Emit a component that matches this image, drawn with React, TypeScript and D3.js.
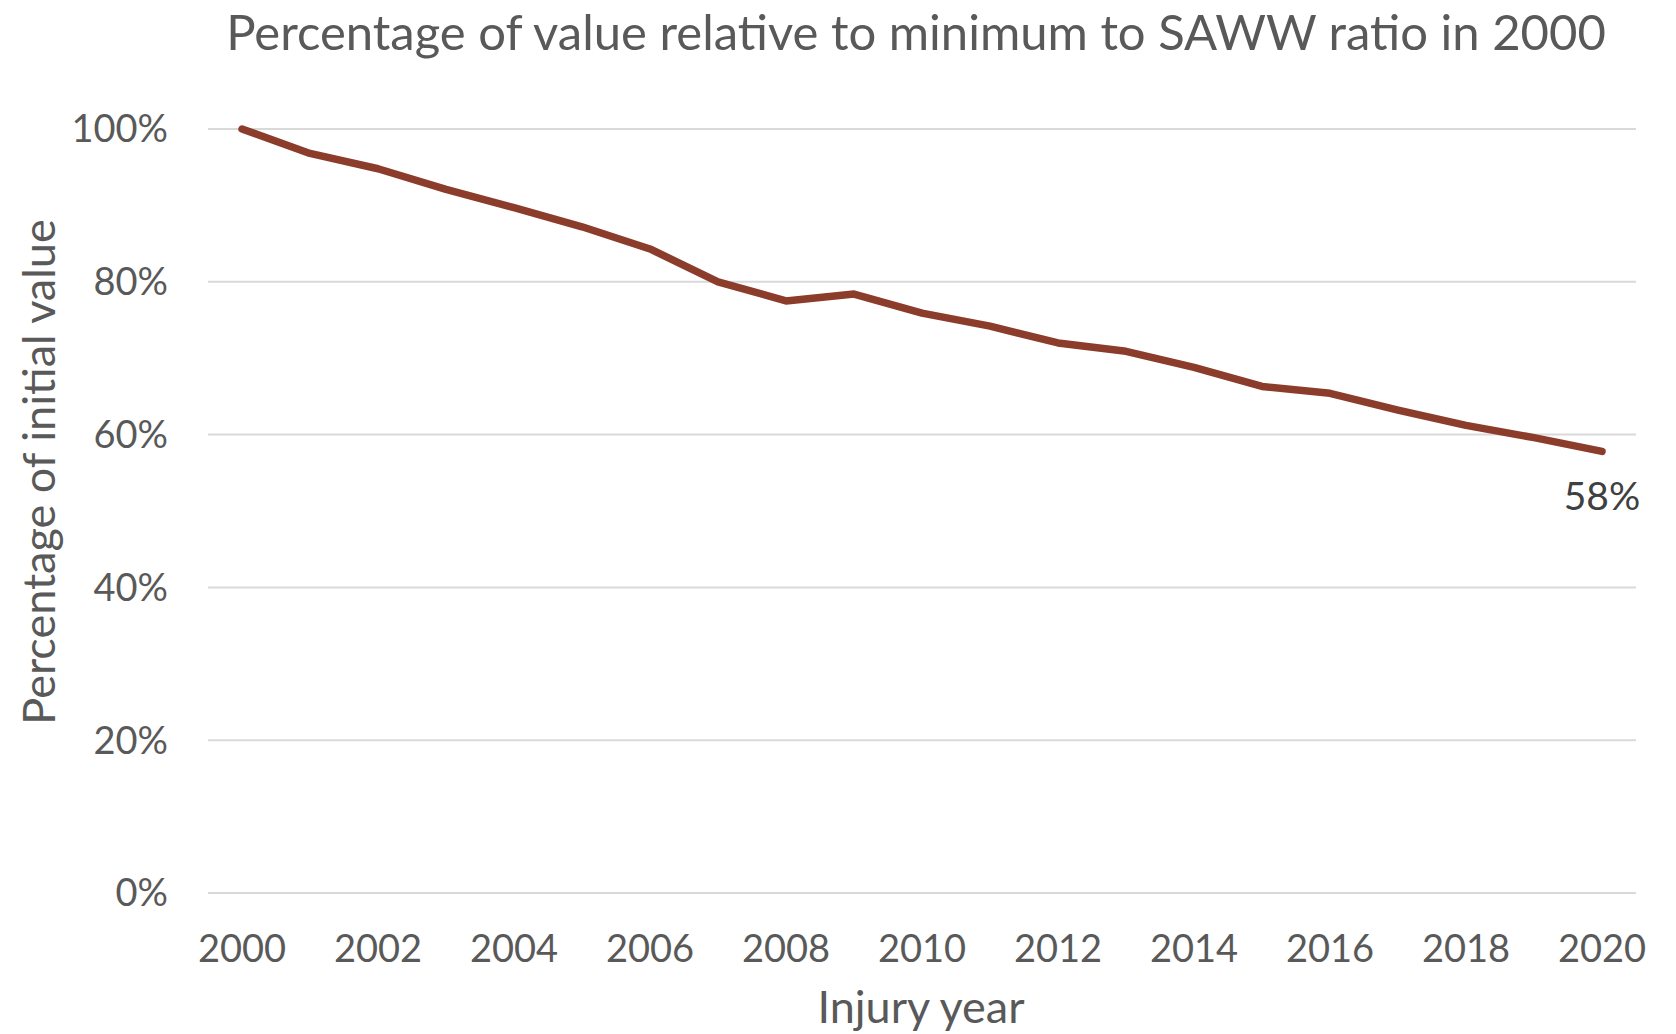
import * as d3 from 'd3'

const years = d3.range(2000, 2021)
const values = [1.0, 0.968, 0.948, 0.921, 0.897, 0.872, 0.843, 0.8, 0.775, 0.784, 0.759, 0.742, 0.72, 0.709, 0.688, 0.663, 0.654, 0.632, 0.612, 0.596, 0.578]
const yTicks = [0, 0.2, 0.4, 0.6, 0.8, 1.0]
const xTickYears = d3.range(2000, 2021, 2)

const W = 1676
const H = 1034
const FONT = 'Lato, "Open Sans", sans-serif'
const TEXT = '#595959'

export default function App() {
  const m = { top: 129, right: 40, bottom: 141, left: 208 }
  const x = d3.scalePoint<number>().domain(years).range([m.left, W - m.right]).padding(0.5)
  const y = d3.scaleLinear().domain([0, 1]).range([H - m.bottom, m.top])

  const line = d3.line<number>()
    .x((_, i) => x(years[i]) ?? 0)
    .y(v => y(v))

  const fmt = d3.format('.0%')
  const last = values[values.length - 1]
  const lastX = x(years[years.length - 1]) ?? 0

  return (
    <svg width={W} height={H} style={{ position: 'absolute', left: 0, top: 0, background: '#fff' }} fontFamily={FONT}>
      <text x={916} y={50} textAnchor="middle" fontSize={49} fill={TEXT}>
        Percentage of value relative to minimum to SAWW ratio in 2000
      </text>

      {yTicks.map(t => (
        <g key={t}>
          <line x1={m.left} x2={W - m.right} y1={y(t)} y2={y(t)} stroke="#d9d9d9" strokeWidth={2} />
          <text x={168} y={y(t)} dy="0.35em" textAnchor="end" fontSize={38} fill={TEXT}>{fmt(t)}</text>
        </g>
      ))}

      {xTickYears.map(yr => (
        <text key={yr} x={x(yr)} y={962} textAnchor="middle" fontSize={38} fill={TEXT}>{yr}</text>
      ))}

      <path d={line(values) ?? ''} fill="none" stroke="#8b3c2b" strokeWidth={7.5} strokeLinejoin="round" strokeLinecap="round" />

      <text x={lastX} y={510} textAnchor="middle" fontSize={39} fill="#404040">{fmt(last)}</text>

      <text x={921} y={1023} textAnchor="middle" fontSize={45} fill={TEXT}>Injury year</text>
      <text transform="translate(55,472) rotate(-90)" textAnchor="middle" fontSize={45} fill={TEXT}>
        Percentage of initial value
      </text>
    </svg>
  )
}
